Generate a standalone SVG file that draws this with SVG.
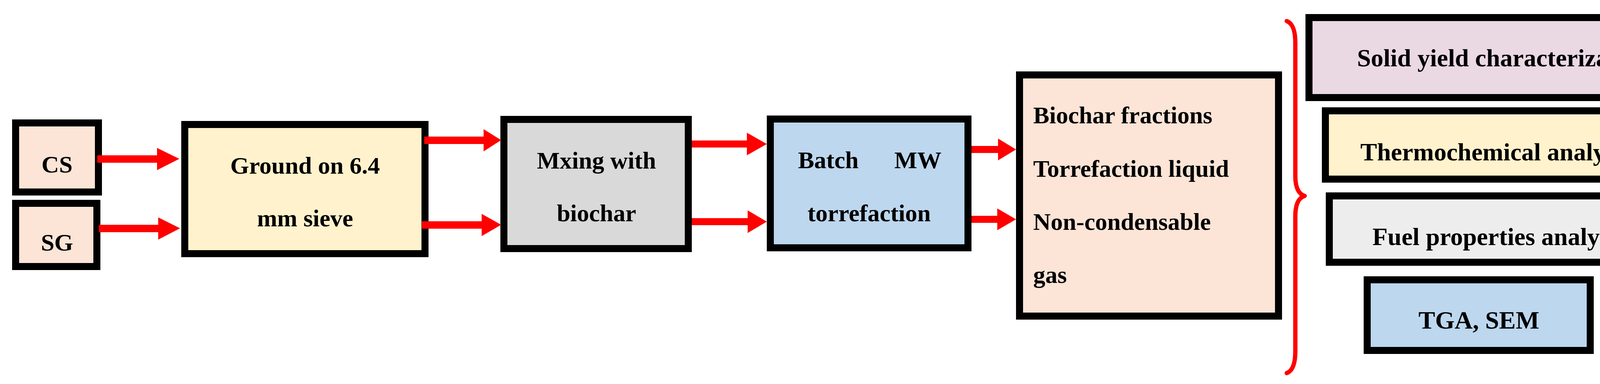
<svg xmlns="http://www.w3.org/2000/svg" width="4398" height="984" viewBox="0 0 4398 984">
<style>
.b{stroke:#000;stroke-width:18}
.t{font-family:"Liberation Serif",serif;font-weight:bold;font-size:62px;fill:#000}
.r{font-family:"Liberation Serif",serif;font-weight:bold;font-size:64px;fill:#000;text-anchor:middle}
.c{text-anchor:middle}
.a{fill:#FF0000}
</style>
<rect width="4398" height="984" fill="#fff"/>
<g id="cs"><rect class="b" x="40" y="315" width="212" height="177" fill="#FCE4D6"/><text class="t c" x="146" y="442">CS</text></g>
<g id="sg"><rect class="b" x="40" y="521" width="208" height="162" fill="#FCE4D6"/><text class="t c" x="146" y="642">SG</text></g>
<g id="ground"><rect class="b" x="473" y="319" width="615" height="331" fill="#FFF2CC"/><text class="t c" x="781" y="445">Ground on 6.4</text><text class="t c" x="781" y="580">mm sieve</text></g>
<g id="mixing"><rect class="b" x="1290" y="306" width="472" height="331" fill="#D9D9D9"/><text class="t c" x="1527" y="432">Mxing with</text><text class="t c" x="1527" y="567">biochar</text></g>
<g id="batch"><rect class="b" x="1972" y="305" width="506" height="330" fill="#BDD7EE"/><text class="t" x="2043" y="431">Batch</text><text class="t" x="2410" y="431" text-anchor="end">MW</text><text class="t c" x="2225" y="567">torrefaction</text></g>
<g id="products"><rect class="b" x="2610" y="192" width="663" height="618" fill="#FCE4D6"/><text class="t" x="2645" y="316">Biochar fractions</text><text class="t" x="2645" y="453">Torrefaction liquid</text><text class="t" x="2645" y="589">Non-condensable</text><text class="t" x="2645" y="725">gas</text></g>
<g id="solid"><rect class="b" x="3351" y="45" width="997" height="205" fill="#EAD8E2"/><text class="r" x="3849" y="170">Solid yield characterization</text></g>
<g id="thermo"><rect class="b" x="3393" y="284" width="875" height="175" fill="#FFF2CC"/><text class="r" x="3830" y="411">Thermochemical analysis</text></g>
<g id="fuel"><rect class="b" x="3403" y="502" width="870" height="170" fill="#EDEDED"/><text class="r" x="3838" y="628">Fuel properties analysis</text></g>
<g id="tga"><rect class="b" x="3500" y="717" width="571" height="181" fill="#BDD7EE"/><text class="r" x="3786" y="842">TGA, SEM</text></g>
<g id="connectors">
<polygon class="a" points="249,398 402,398 402,379 459,407 402,436 402,417 249,417"/>
<polygon class="a" points="253,576 405,576 405,557 461,585 405,614 405,595 253,595"/>
<polygon class="a" points="1086,350 1238,350 1238,331 1283,359 1238,388 1238,369 1086,369"/>
<polygon class="a" points="1080,567 1233,567 1233,548 1283,576 1233,605 1233,586 1080,586"/>
<polygon class="a" points="1771,360 1912,360 1912,340 1963,369 1912,398 1912,378 1771,378"/>
<polygon class="a" points="1771,559 1914,559 1914,539 1963,568 1914,597 1914,577 1771,577"/>
<polygon class="a" points="2487,374 2555,374 2555,355 2601,383 2555,411 2555,392 2487,392"/>
<polygon class="a" points="2487,553 2553,553 2553,534 2601,562 2553,590 2553,571 2487,571"/>
<path d="M3294,54 Q3316,62 3316,110 L3316,450 Q3316,495 3340,502 Q3316,509 3316,555 L3316,900 Q3316,948 3294,956" fill="none" stroke="#FF0000" stroke-width="11" stroke-linecap="round" stroke-linejoin="round"/>
</g>
</svg>
